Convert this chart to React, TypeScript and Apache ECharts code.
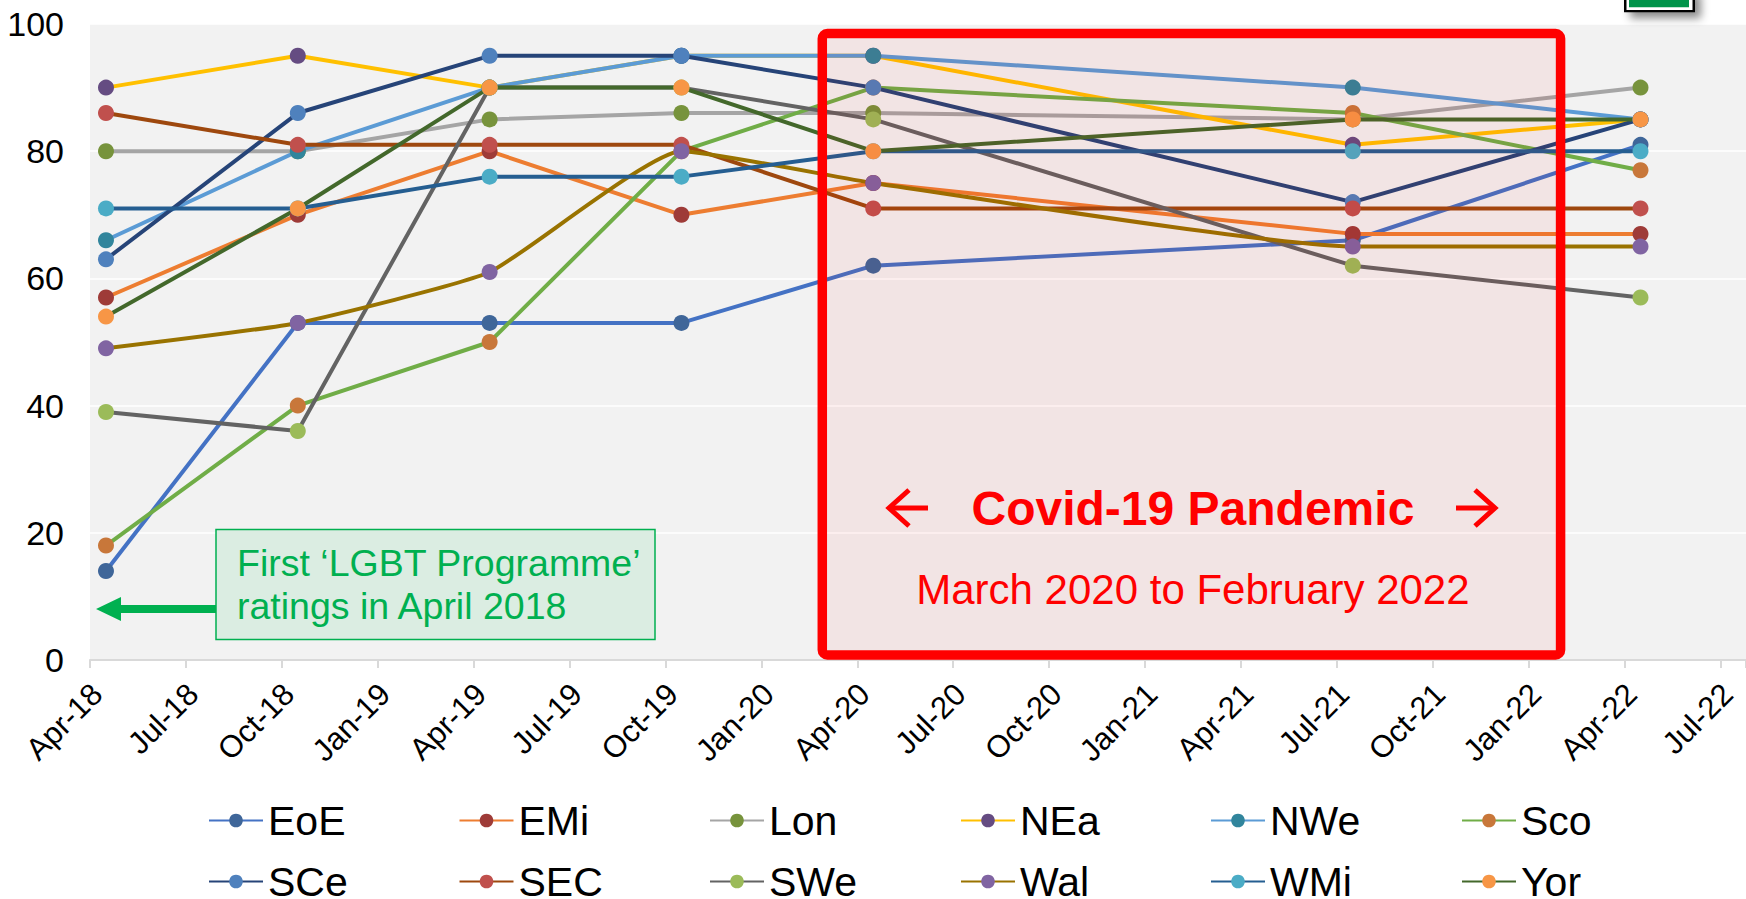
import React, { useEffect, useRef } from 'react';
import * as echarts from 'echarts';

// ---------- data ----------
const seriesNames = ['EoE', 'EMi', 'Lon', 'NEa', 'NWe', 'Sco', 'SCe', 'SEC', 'SWe', 'Wal', 'WMi', 'Yor'];
const ratingDates = ['2018-04-16', '2018-10-16', '2019-04-16', '2019-10-16', '2020-04-16', '2021-07-16', '2022-04-16'];

const EoE = [14, 53, 53, 53, 62, 66, 81];
const EMi = [57, 70, 80, 70, 75, 67, 67];
const Lon = [80, 80, 85, 86, 86, 85, 90];
const NEa = [90, 95, 90, 95, 95, 81, 85];
const NWe = [66, 80, 90, 95, 95, 90, 85];
const Sco = [18, 40, 50, 80, 90, 86, 77];
const SCe = [63, 86, 95, 95, 90, 72, 85];
const SEC = [86, 81, 81, 81, 71, 71, 71];
const SWe = [39, 36, 90, 90, 85, 62, 57];
const Wal = [49, 53, 61, 80, 75, 65, 65];
const WMi = [71, 71, 76, 76, 80, 80, 80];
const Yor = [54, 71, 90, 90, 80, 85, 85];
const seriesValues = [EoE, EMi, Lon, NEa, NWe, Sco, SCe, SEC, SWe, Wal, WMi, Yor];

const lineColors = ['#4472C4', '#ED7D31', '#A5A5A5', '#FFC000', '#5B9BD5', '#70AD47', '#264478', '#9E480E', '#636363', '#997300', '#255E91', '#43682B'];
const markerColors = ['#3F6699', '#9E3B38', '#77933C', '#654C82', '#31859C', '#C8773A', '#4F81BD', '#C0504D', '#9BBB59', '#8064A2', '#4BACC6', '#F79646'];
const smoothedSeries = ['Wal'];

const monthNames = ['Jan', 'Feb', 'Mar', 'Apr', 'May', 'Jun', 'Jul', 'Aug', 'Sep', 'Oct', 'Nov', 'Dec'];
const axisStartDate = '2018-04-01';
const axisEndDate = '2022-07-25';
const covidStartDate = '2020-03-01';
const covidEndDate = '2022-02-01';
const yTickStep = 20;

const FONT = '"Liberation Sans", Arial, Helvetica, sans-serif';

function monthIndex(date: string): number {
  const [y, m, d] = date.split('-').map(Number);
  return (y - 2018) * 12 + (m - 4) + (d - 1) / 30;
}

function quarterLabel(v: number): string {
  const r = Math.round(v);
  if (Math.abs(v - r) > 1e-6 || r < 0 || r % 3 !== 0) return '';
  const total = r + 3;
  const year = 2018 + Math.floor(total / 12);
  return `${monthNames[total % 12]}-${String(year).slice(2)}`;
}

const legendLefts = [208, 458.5, 709, 960, 1210, 1461];
const legendTops = [800, 861];

export default function App() {
  const ref = useRef<HTMLDivElement>(null);

  useEffect(() => {
    if (!ref.current) return;
    const chart = echarts.init(ref.current, undefined, { renderer: 'svg' });

    const xMin = monthIndex(axisStartDate);
    const xMax = monthIndex(axisEndDate);

    const series = seriesNames.map((name, i) => ({
      name,
      type: 'line',
      data: ratingDates.map((d, j) => [monthIndex(d), seriesValues[i][j]]),
      symbol: 'circle',
      symbolSize: 16,
      smooth: smoothedSeries.includes(name) ? 0.15 : false,
      lineStyle: { color: lineColors[i], width: 4 },
      itemStyle: { color: markerColors[i], borderWidth: 0 },
      emphasis: { disabled: true },
      animation: false,
    }));

    const legends = seriesNames.map((name, i) => ({
      data: [name],
      left: legendLefts[i % 6],
      top: legendTops[Math.floor(i / 6)],
      orient: 'horizontal',
      padding: 0,
      itemGap: 0,
      itemWidth: 54,
      itemHeight: 17,
      textStyle: { fontSize: 41, color: '#000', fontFamily: FONT },
    }));

    const option: any = {
      animation: false,
      backgroundColor: '#ffffff',
      grid: {
        left: 90,
        right: 0,
        top: 24,
        bottom: 239,
        show: true,
        backgroundColor: '#f2f2f2',
        borderWidth: 0,
        containLabel: false,
        outerBoundsMode: 'none',
      },
      legend: legends,
      xAxis: {
        type: 'value',
        min: xMin,
        max: xMax,
        interval: 3,
        axisLine: { show: true, lineStyle: { color: '#d9d9d9', width: 2 } },
        axisTick: { show: true, length: 8, lineStyle: { color: '#d9d9d9', width: 2 } },
        splitLine: { show: false },
        axisLabel: {
          show: true,
          rotate: 45,
          margin: 36,
          fontSize: 31,
          color: '#000',
          fontFamily: FONT,
          padding: [34, -10, 0, 0],
          formatter: (v: number) => quarterLabel(v),
        },
      },
      yAxis: {
        type: 'value',
        min: 0,
        max: 100,
        interval: yTickStep,
        axisLine: { show: false },
        axisTick: { show: false },
        axisLabel: { fontSize: 34, color: '#000', margin: 26, fontFamily: FONT },
        splitLine: { show: true, lineStyle: { color: '#ffffff', width: 1.5 } },
      },
      series,
    };

    chart.setOption(option);

    const toPx = (x: number, y: number) =>
      chart.convertToPixel({ xAxisIndex: 0, yAxisIndex: 0 }, [x, y]) as number[];
    const tl = toPx(monthIndex(covidStartDate), 98.5);
    const br = toPx(monthIndex(covidEndDate), 0.8);
    const cx = (tl[0] + br[0]) / 2;
    const arrowY = 508;

    const graphic: any[] = [
      {
        type: 'rect',
        z: 100,
        shape: { x: tl[0] - 3, y: tl[1], width: br[0] - tl[0] + 3, height: br[1] - tl[1], r: 5 },
        style: { fill: 'rgba(255,0,0,0.055)', stroke: '#ff0000', lineWidth: 9.5 },
        silent: true,
      },
      {
        type: 'text',
        z: 101,
        style: {
          text: 'Covid-19 Pandemic',
          x: cx,
          y: arrowY,
          fill: '#ff0000',
          fontFamily: FONT,
          fontSize: 48,
          fontWeight: 'bold',
          align: 'center',
          verticalAlign: 'middle',
        },
      },
      {
        type: 'text',
        z: 101,
        style: {
          text: 'March 2020 to February 2022',
          x: cx,
          y: 589,
          fill: '#ff0000',
          fontFamily: FONT,
          fontSize: 42,
          align: 'center',
          verticalAlign: 'middle',
        },
      },
      {
        type: 'polyline',
        z: 101,
        shape: { points: [[928, arrowY], [889, arrowY]] },
        style: { stroke: '#ff0000', lineWidth: 5, fill: null },
      },
      {
        type: 'polyline',
        z: 101,
        shape: { points: [[909, arrowY - 18], [889, arrowY], [909, arrowY + 18]] },
        style: { stroke: '#ff0000', lineWidth: 5, fill: null, lineJoin: 'miter' },
      },
      {
        type: 'polyline',
        z: 101,
        shape: { points: [[1456, arrowY], [1495, arrowY]] },
        style: { stroke: '#ff0000', lineWidth: 5, fill: null },
      },
      {
        type: 'polyline',
        z: 101,
        shape: { points: [[1475, arrowY - 18], [1495, arrowY], [1475, arrowY + 18]] },
        style: { stroke: '#ff0000', lineWidth: 5, fill: null, lineJoin: 'miter' },
      },
      {
        type: 'rect',
        z: 100,
        shape: { x: 216, y: 529.5, width: 439, height: 110 },
        style: { fill: '#dbede2', stroke: '#00b050', lineWidth: 1.5 },
      },
      {
        type: 'text',
        z: 101,
        style: {
          text: 'First \u2018LGBT Programme\u2019',
          x: 237,
          y: 563,
          fill: '#00b050',
          fontFamily: FONT,
          fontSize: 37.5,
          align: 'left',
          verticalAlign: 'middle',
        },
      },
      {
        type: 'text',
        z: 101,
        style: {
          text: 'ratings in April 2018',
          x: 237,
          y: 606,
          fill: '#00b050',
          fontFamily: FONT,
          fontSize: 37.5,
          align: 'left',
          verticalAlign: 'middle',
        },
      },
      {
        type: 'polygon',
        z: 101,
        shape: {
          points: [[96, 609], [121, 597], [121, 605], [216, 605], [216, 613], [121, 613], [121, 621]],
        },
        style: { fill: '#00b050' },
      },
      {
        type: 'rect',
        z: 100,
        shape: { x: 1624, y: -12, width: 71, height: 24.3 },
        style: {
          fill: '#000000',
          shadowBlur: 8,
          shadowOffsetX: 6,
          shadowOffsetY: 6,
          shadowColor: 'rgba(0,0,0,0.45)',
        },
      },
      {
        type: 'rect',
        z: 101,
        shape: { x: 1626.5, y: -12, width: 66, height: 22 },
        style: { fill: '#ffffff' },
      },
      {
        type: 'rect',
        z: 102,
        shape: { x: 1629, y: -12, width: 60, height: 19.3 },
        style: { fill: '#00934a' },
      },
    ];

    chart.setOption({ graphic });

    return () => {
      chart.dispose();
    };
  }, []);

  return (
    <div
      ref={ref}
      style={{ position: 'fixed', left: 0, top: 0, width: 1746, height: 899, background: '#fff' }}
    />
  );
}
